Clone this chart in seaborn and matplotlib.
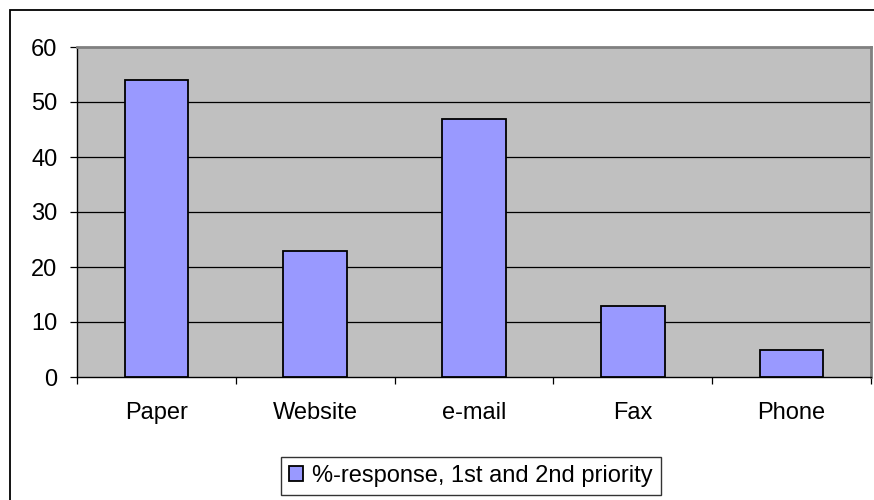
import matplotlib
matplotlib.use("Agg")
import matplotlib.pyplot as plt
import seaborn as sns
import pandas as pd
from matplotlib.patches import Rectangle

categories = ["Paper", "Website", "e-mail", "Fax", "Phone"]
values = [54, 23, 47, 13, 5]
series_name = "%-response, 1st and 2nd priority"
y_ticks = [0, 10, 20, 30, 40, 50, 60]

sns.set_style("white")
plt.rcParams['font.family'] = ['Liberation Sans', 'DejaVu Sans']
plt.rcParams['text.color'] = 'black'
plt.rcParams['xtick.color'] = 'black'
plt.rcParams['ytick.color'] = 'black'

df = pd.DataFrame({"channel": categories, "value": values})

fig = plt.figure(figsize=(8.74, 5), dpi=100)
ax = fig.add_axes([77/874, 1-377/500, (871-77)/874, (377-47)/500])
ax.set_facecolor("#C0C0C0")

sns.barplot(data=df, x="channel", y="value", color="#9999FF", saturation=1,
            edgecolor="black", linewidth=1.3, width=0.4, label=series_name,
            ax=ax, zorder=3)

ax.set_xlim(-0.5, len(categories) - 0.5)
ax.set_ylim(0, 60)
ax.set_yticks(y_ticks)
for y in y_ticks[1:-1]:
    ax.axhline(y, color="black", linewidth=0.9, zorder=1)

ax.set_xlabel("")
ax.set_ylabel("")
ax.tick_params(axis="x", which="major", length=0, pad=18, labelsize=17)
ax.set_xticks([i - 0.5 for i in range(len(categories) + 1)], minor=True)
ax.tick_params(axis="x", which="minor", length=5, width=0.9, direction="out",
               bottom=True, color="black")
ax.tick_params(axis="y", length=5, width=0.9, direction="out", left=True,
               pad=9, labelsize=17, color="black")

for side in ["top", "right"]:
    ax.spines[side].set_color("#808080")
    ax.spines[side].set_linewidth(2)
for side in ["left", "bottom"]:
    ax.spines[side].set_color("black")
    ax.spines[side].set_linewidth(1)

leg = ax.legend(loc="center", bbox_to_anchor=(471/874, 1-476/500),
                bbox_transform=fig.transFigure, fontsize=17, frameon=True,
                fancybox=False, edgecolor="black", handlelength=0.6,
                handleheight=0.6, handletextpad=0.4, borderpad=0.35)
leg.get_frame().set_linewidth(1)

# outer chart border (only left and top visible in the crop)
fig.patches.append(Rectangle((10/874, -0.1), 1.2, 1 - 10/500 + 0.1,
                             transform=fig.transFigure, fill=False,
                             edgecolor="black", linewidth=1.3))

fig.savefig("out.png", dpi=100)
